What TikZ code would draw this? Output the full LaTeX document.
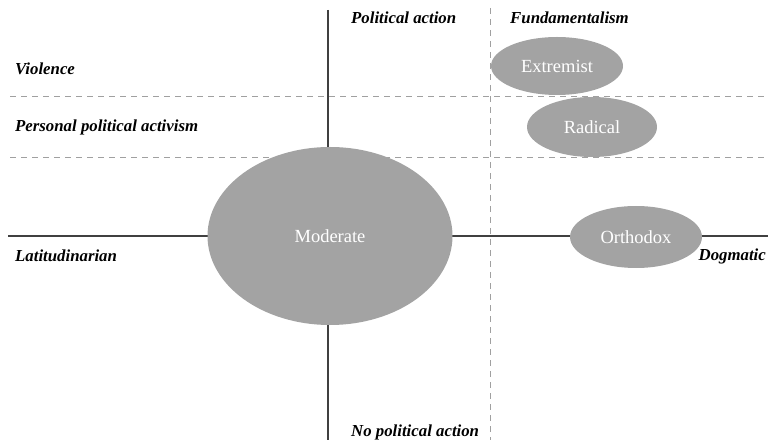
\documentclass[tikz,border=0pt]{standalone}
\usepackage{fontspec}
\setmainfont{Liberation Serif}
\usepackage{tikz}
\usetikzlibrary{positioning}
\usetikzlibrary{arrows,shapes}

\definecolor{blobgray}{HTML}{A3A3A3}
\definecolor{axisgray}{HTML}{404040}
\definecolor{dashgray}{HTML}{A0A0A0}

\begin{document}
\begin{tikzpicture}
[   x=1pt,
    y=-1pt,
    axis/.style={draw=axisgray, line width=2pt},
    band/.style={draw=dashgray, line width=0.9pt, dash pattern=on 6pt off 5pt},
    blob/.style={ellipse, fill=blobgray, inner sep=0pt, text=white, font=\fontsize{18.5}{20}\selectfont},
    tag/.style={font=\fontsize{16.8}{18}\selectfont\bfseries\itshape, inner sep=0pt, text=black}
]
\useasboundingbox (0,0) rectangle (775,443);

% axes and bands
\coordinate (vtop) at (328,10);
\coordinate (vbot) at (328,440);
\coordinate (hleft) at (8,236);
\coordinate (hright) at (768,236);
\coordinate (dtop) at (490,8);
\coordinate (dbot) at (490,440);
\coordinate (uleft) at (10,96);
\coordinate (uright) at (768,96);
\coordinate (lleft) at (10,157);
\coordinate (lright) at (768,157);

\draw[band] (dtop) -- (dbot);
\draw[band] (uleft) -- (uright);
\draw[band] (lleft) -- (lright);
\draw[axis] (vtop) -- (vbot);
\draw[axis] (hleft) -- (hright);

% positions
\node (moderate) [blob, minimum width=245pt, minimum height=178pt] at (330,236) {Moderate};
\node (extremist) [blob, minimum width=132pt, minimum height=58pt] at (557,66) {Extremist};
\node (radical) [blob, minimum width=130pt, minimum height=60pt] at (592,127) {Radical};
\node (orthodox) [blob, minimum width=132pt, minimum height=62pt] at (636,237) {Orthodox};

% labels
\node (violence) [tag, anchor=west] at (15,69) {Violence};
\node (activism) [tag, anchor=west] at (15,127) {Personal political activism};
\node (action) [tag, anchor=west] at (351,18) {Political action};
\node (fundam) [tag, anchor=west] at (510,18) {Fundamentalism};
\node (latitud) [tag, anchor=west] at (15,256) {Latitudinarian};
\node (dogmatic) [tag, anchor=east] at (766,256) {Dogmatic};
\node (noaction) [tag, anchor=west] at (351,432) {No political action};
\end{tikzpicture}
\end{document}
